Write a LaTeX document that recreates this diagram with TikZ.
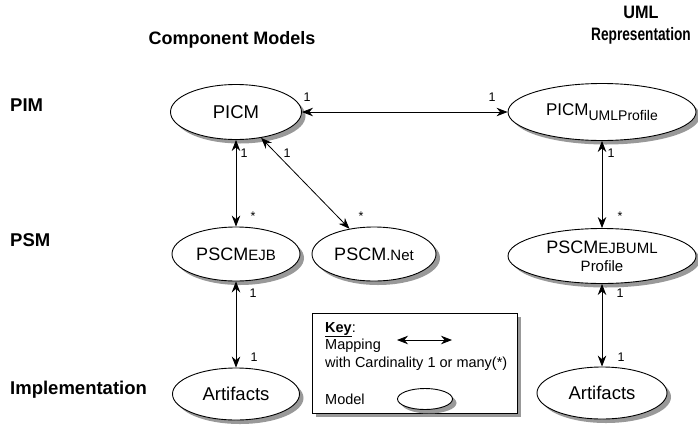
\documentclass[tikz,border=0pt]{standalone}
\usepackage{fontspec}
\setmainfont{Liberation Sans}
\usetikzlibrary{shapes.geometric,arrows.meta,shadows}
\newcommand{\sml}[1]{{\fontsize{15}{15}\selectfont #1}}
\newcommand{\subsml}[1]{\raisebox{-4.5pt}{\fontsize{14}{14}\selectfont #1}}
\tikzset{
  shad/.style={drop shadow={shadow xshift=4pt, shadow yshift=-4pt, fill=black!40, opacity=1}},
  model/.style={ellipse, draw, line width=0.9pt, fill=white, inner sep=0pt, align=center,
    font=\fontsize{18.5}{19}\selectfont, shad},
  arr/.style={{Stealth[length=11pt,width=8.5pt]}-{Stealth[length=11pt,width=8.5pt]}, line width=0.8pt},
  card/.style={font=\fontsize{12.5}{12.5}\selectfont, inner sep=0pt},
  rowlab/.style={font=\fontsize{18.5}{18.5}\selectfont\bfseries, anchor=west, inner sep=0pt},
  head/.style={font=\fontsize{18}{22}\selectfont\bfseries, align=center, inner sep=0pt},
  keytxt/.style={font=\fontsize{14.5}{14.5}\selectfont, anchor=base west, inner sep=0pt}
}
\begin{document}
\begin{tikzpicture}[x=1pt,y=-1pt]
\useasboundingbox (0,0) rectangle (698,426);
% headers
\node[head] (h1) at (232,40) {Component Models};
\node[head] (h2) at (641,25) {\scalebox{0.9}[1]{UML}\\\scalebox{0.76}[1]{Representation}};
% row labels
\node[rowlab] (pim) at (10,105) {PIM};
\node[rowlab] (psm) at (10,240) {PSM};
\node[rowlab] (impl) at (10,390) {Implementation};
% models
\node[model, minimum width=131pt, minimum height=55pt] (picm) at (236,112) {PICM};
\node[model, minimum width=188pt, minimum height=57pt, font=\fontsize{17}{17}\selectfont] (picmu) at (602,112) {PICM\subsml{UMLProfile}};
\node[model, minimum width=128pt, minimum height=54pt, font=\fontsize{18}{18}\selectfont] (ejb) at (236,254) {PSCM\sml{EJB}};
\node[model, minimum width=124pt, minimum height=54pt, font=\fontsize{18}{18}\selectfont] (net) at (374,254) {PSCM\sml{.Net}};
\node[model, minimum width=188pt, minimum height=55pt, font=\fontsize{18}{19}\selectfont] (ejbu) at (602,256) {PSCM\sml{EJBUML}\\[-1pt]\sml{Profile}};
\node[model, minimum width=127pt, minimum height=52pt] (art1) at (236,394) {Artifacts};
\node[model, minimum width=130pt, minimum height=52pt] (art2) at (602,393) {Artifacts};
% connectors
\draw[arr] (picm) -- (picmu);
\draw[arr] (picm) -- (ejb);
\draw[arr] (picm) -- (net);
\draw[arr] (picmu) -- (ejbu);
\draw[arr] (ejb) -- (art1);
\draw[arr] (ejbu) -- (art2);
% cardinalities
\node[card] (c1) at (307,97) {1};
\node[card] (c2) at (492,97) {1};
\node[card] (c3) at (244,153) {1};
\node[card] (c4) at (253,216) {*};
\node[card] (c5) at (287,153) {1};
\node[card] (c6) at (361,216) {*};
\node[card] (c7) at (611,153) {1};
\node[card] (c8) at (620,216) {*};
\node[card] (c9) at (253,293) {1};
\node[card] (c10) at (254,357) {1};
\node[card] (c11) at (620,293) {1};
\node[card] (c12) at (621,357) {1};
% key
\node[draw, line width=0.9pt, fill=white, shad, minimum width=205pt, minimum height=100pt, inner sep=0pt] (key) at (414.5,363) {};
\node[keytxt] (k0) at (325,332) {\textbf{\underline{Key}}:};
\node[keytxt] (k1) at (325,349) {Mapping};
\node[keytxt] (k2) at (325,367) {with Cardinality 1 or many(*)};
\node[keytxt] (k3) at (325,404) {Model};
\coordinate (ka) at (397,340);
\coordinate (kb) at (452,340);
\draw[arr] (ka) -- (kb);
\node[model, minimum width=55pt, minimum height=21pt, drop shadow={shadow xshift=3pt, shadow yshift=-3pt, fill=black!40, opacity=1}] (kell) at (425,399) {};
\end{tikzpicture}
\end{document}
